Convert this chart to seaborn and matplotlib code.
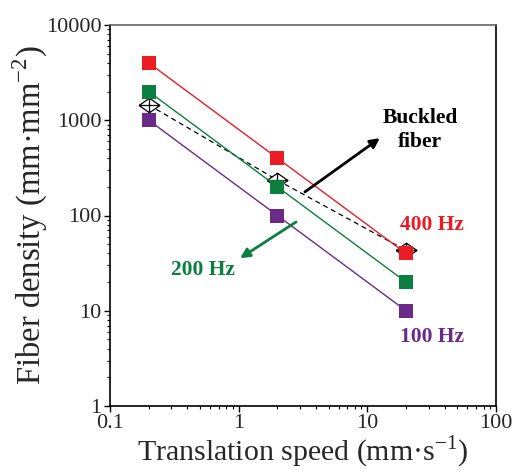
import matplotlib
matplotlib.use("Agg")
import matplotlib.pyplot as plt
import seaborn as sns
import pandas as pd
from matplotlib.path import Path
from matplotlib.ticker import LogLocator, NullFormatter, FixedLocator

speed = [0.2, 2, 20]
d400 = [4000, 400, 40]
d200 = [2000, 200, 20]
d100 = [1000, 100, 10]
buckled = [1450, 235, 43]

series_names = ["400 Hz", "200 Hz", "100 Hz"]
colors = {"400 Hz": "#ec1c24", "200 Hz": "#0b7f3f", "100 Hz": "#6b2a88"}

xticks = [0.1, 1, 10, 100]
xticklabels = ["0.1", "1", "10", "100"]
yticks = [1, 10, 100, 1000, 10000]
yticklabels = ["1", "10", "100", "1000", "10000"]

sns.set_style("white")
plt.rcParams["font.family"] = ["Liberation Serif", "DejaVu Serif"]
plt.rcParams["mathtext.fontset"] = "custom"
plt.rcParams["mathtext.rm"] = "Liberation Serif"

df = pd.DataFrame({
    "speed": speed * 3,
    "density": d400 + d200 + d100,
    "freq": [n for n in series_names for _ in speed],
})

# flattened diamond with a cross inside
h = 0.7
diamond_cross = Path(
    [(-1, 0), (0, h), (1, 0), (0, -h), (-1, 0), (-1, 0), (1, 0), (0, h), (0, -h)],
    [Path.MOVETO, Path.LINETO, Path.LINETO, Path.LINETO, Path.LINETO,
     Path.MOVETO, Path.LINETO, Path.MOVETO, Path.LINETO],
)

fig = plt.figure(figsize=(5.17, 4.70), dpi=100)
ax = fig.add_axes([110/517, 1 - 406/470, (496-110)/517, (406-25)/470])

bdf = pd.DataFrame({"speed": speed, "density": buckled})
sns.lineplot(data=bdf, x="speed", y="density", ax=ax, color="black",
             linewidth=0.9, linestyle=(0, (4, 3)), marker=diamond_cross, markersize=15,
             markerfacecolor="white", markeredgecolor="black", markeredgewidth=0.9,
             legend=False, zorder=2)

for name in ["100 Hz", "200 Hz", "400 Hz"]:
    sub = df[df["freq"] == name]
    sns.lineplot(data=sub, x="speed", y="density", ax=ax, color=colors[name],
                 linewidth=1.0, marker="s", markersize=10.5, markeredgewidth=0,
                 legend=False, zorder=3)

ax.set_xscale("log")
ax.set_yscale("log")
ax.set_xlim(0.1, 100)
ax.set_ylim(1, 10000)
ax.xaxis.set_major_locator(FixedLocator(xticks))
ax.set_xticklabels(xticklabels)
ax.yaxis.set_major_locator(FixedLocator(yticks))
ax.set_yticklabels(yticklabels)
ax.xaxis.set_minor_locator(LogLocator(base=10, subs=range(2, 10)))
ax.yaxis.set_minor_locator(LogLocator(base=10, subs=range(2, 10)))
ax.xaxis.set_minor_formatter(NullFormatter())
ax.yaxis.set_minor_formatter(NullFormatter())
ax.tick_params(axis="both", which="both", direction="out", top=False, right=False,
               labelsize=16, color="black", bottom=True, left=True)
ax.tick_params(axis="both", which="major", length=4, width=1, pad=2)
ax.tick_params(axis="both", which="minor", length=2.2, width=0.8)

for s in ["left", "bottom", "right"]:
    ax.spines[s].set_color("black")
    ax.spines[s].set_linewidth(1.2)
ax.spines["top"].set_color("#666666")
ax.spines["top"].set_linewidth(1.2)

ax.set_xlabel("Translation speed (mm\u00b7s$^{\\mathregular{-1}}$)", fontsize=21.5, labelpad=0)
ax.set_ylabel("Fiber density (mm\u00b7mm$^{\\mathregular{-2}}$)", fontsize=23.5, labelpad=-3)

T = ax.transAxes
ax.text(0.803, 0.724, "Buckled\nfiber", transform=T, fontsize=15.5, fontweight="bold",
        ha="center", va="center", color="black", linespacing=1.25)
ax.annotate("", xy=(0.699, 0.703), xytext=(0.505, 0.562), xycoords=T, textcoords=T,
            arrowprops=dict(arrowstyle="-|>", color="black", lw=2, mutation_scale=14,
                            shrinkA=0, shrinkB=0))
ax.text(0.834, 0.475, "400 Hz", transform=T, fontsize=15.5, fontweight="bold",
        ha="center", va="center", color=colors["400 Hz"])
ax.text(0.834, 0.181, "100 Hz", transform=T, fontsize=15.5, fontweight="bold",
        ha="center", va="center", color=colors["100 Hz"])
ax.text(0.241, 0.357, "200 Hz", transform=T, fontsize=15.5, fontweight="bold",
        ha="center", va="center", color=colors["200 Hz"])
ax.annotate("", xy=(0.337, 0.388), xytext=(0.482, 0.483), xycoords=T, textcoords=T,
            arrowprops=dict(arrowstyle="-|>", color=colors["200 Hz"], lw=2, mutation_scale=14,
                            shrinkA=0, shrinkB=0))

fig.savefig("out.png", dpi=100)
